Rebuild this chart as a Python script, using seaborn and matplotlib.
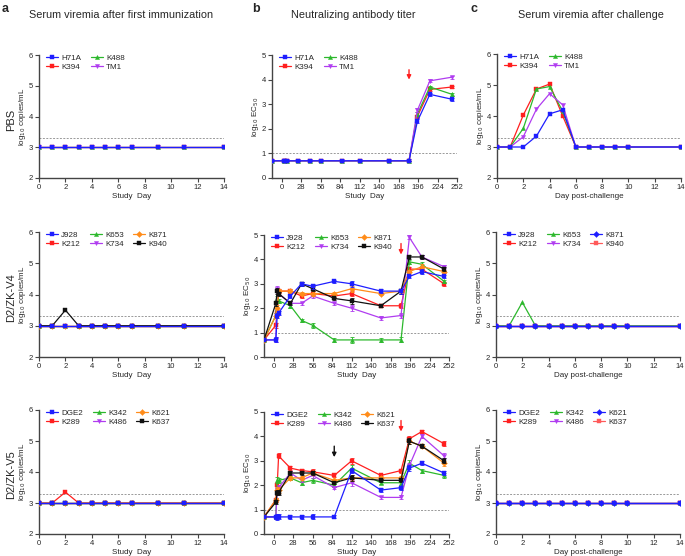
import numpy as np
import pandas as pd
import matplotlib
matplotlib.use("Agg")
import matplotlib.pyplot as plt
import seaborn as sns

W, H = 685, 556

# -- Data ------------------------------------------------------------------
a_days = [0, 1, 2, 3, 4, 5, 6, 7, 9, 11, 14]
c_days = [0, 1, 2, 3, 4, 5, 6, 7, 8, 9, 10, 14]
b_days = [-14, 3, 5, 7, 24, 40, 56, 87, 112, 154, 183, 195, 213, 245]
boost_day = 87
challenge_day = 183

# a: serum viremia after first immunization (log10 copies/mL)
a_pbs = {
    "H71A": [3, 3, 3, 3, 3, 3, 3, 3, 3, 3, 3],
    "K394": [3, 3, 3, 3, 3, 3, 3, 3, 3, 3, 3],
    "K488": [3, 3, 3, 3, 3, 3, 3, 3, 3, 3, 3],
    "TM1":  [3, 3, 3, 3, 3, 3, 3, 3, 3, 3, 3],
}
a_v4 = {
    "J928": [3, 3, 3, 3, 3, 3, 3, 3, 3, 3, 3],
    "K212": [3, 3, 3, 3, 3, 3, 3, 3, 3, 3, 3],
    "K653": [3, 3, 3, 3, 3, 3, 3, 3, 3, 3, 3],
    "K734": [3, 3, 3, 3, 3, 3, 3, 3, 3, 3, 3],
    "K871": [3, 3, 3, 3, 3, 3, 3, 3, 3, 3, 3],
    "K940": [3, 3, 3.5, 3, 3, 3, 3, 3, 3, 3, 3],
}
a_v5 = {
    "DGE2": [3, 3, 3, 3, 3, 3, 3, 3, 3, 3, 3],
    "K289": [3, 3, 3.35, 3, 3, 3, 3, 3, 3, 3, 3],
    "K342": [3, 3, 3, 3, 3, 3, 3, 3, 3, 3, 3],
    "K486": [3, 3, 3, 3, 3, 3, 3, 3, 3, 3, 3],
    "K621": [3, 3, 3, 3, 3, 3, 3, 3, 3, 3, 3],
    "K637": [3, 3, 3, 3, 3, 3, 3, 3, 3, 3, 3],
}

# b: neutralizing antibody titer (log10 EC50)
b_pbs = {
    "H71A": [0.7, 0.7, 0.7, 0.7, 0.7, 0.7, 0.7, 0.7, 0.7, 0.7, 0.7, 2.3, 3.4, 3.2],
    "K394": [0.7, 0.7, 0.7, 0.7, 0.7, 0.7, 0.7, 0.7, 0.7, 0.7, 0.7, 2.5, 3.6, 3.7],
    "K488": [0.7, 0.7, 0.7, 0.7, 0.7, 0.7, 0.7, 0.7, 0.7, 0.7, 0.7, 2.6, 3.7, 3.4],
    "TM1":  [0.7, 0.7, 0.7, 0.7, 0.7, 0.7, 0.7, 0.7, 0.7, 0.7, 0.7, 2.75, 3.95, 4.1],
}
b_v4 = {
    "J928": [0.7, 0.7, 1.7, 1.8, 2.5, 3.0, 2.9, 3.1, 3.0, 2.7, 2.7, 3.3, 3.5, 3.3],
    "K212": [0.7, 1.3, 1.8, 2.7, 2.7, 2.5, 2.6, 2.5, 2.6, 2.1, 2.1, 3.6, 3.6, 3.0],
    "K653": [0.7, 1.7, 2.4, 2.3, 2.1, 1.5, 1.3, 0.7, 0.7, 0.7, 0.7, 3.9, 3.8, 3.1],
    "K734": [0.7, 0.7, 2.8, 2.6, 2.2, 2.2, 2.5, 2.2, 2.0, 1.6, 1.7, 4.9, 4.1, 3.7],
    "K871": [0.7, 1.7, 2.0, 2.7, 2.7, 2.6, 2.6, 2.6, 2.8, 2.6, 2.7, 3.5, 3.7, 3.5],
    "K940": [0.7, 2.2, 2.7, 2.6, 2.2, 3.0, 2.8, 2.4, 2.3, 2.1, 2.7, 4.1, 4.1, 3.6],
}
b_v5 = {
    "DGE2": [0.7, 0.7, 0.7, 0.7, 0.7, 0.7, 0.7, 0.7, 2.6, 1.8, 1.9, 2.7, 2.9, 2.5],
    "K289": [0.7, 1.4, 2.0, 3.2, 2.7, 2.6, 2.55, 2.4, 3.0, 2.4, 2.6, 3.9, 4.2, 3.7],
    "K342": [0.7, 0.7, 2.2, 2.2, 2.3, 2.1, 2.2, 2.0, 2.7, 2.1, 2.1, 2.9, 2.6, 2.4],
    "K486": [0.7, 0.7, 1.8, 1.9, 2.5, 2.2, 2.4, 1.9, 2.1, 1.5, 1.5, 2.8, 4.0, 3.2],
    "K621": [0.7, 1.4, 1.8, 1.8, 2.3, 2.3, 2.5, 2.2, 2.3, 2.3, 2.3, 3.8, 3.6, 2.9],
    "K637": [0.7, 1.3, 1.7, 1.7, 2.5, 2.5, 2.5, 2.1, 2.3, 2.2, 2.2, 3.8, 3.6, 3.0],
}
# error bars (SD) per time point for each row of panel b
b_err_pbs = [0, 0, 0, 0, 0, 0, 0, 0, 0, 0, 0, 0.08, 0.06, 0.06]
b_err_v4 = [0, 0.1, 0.12, 0.08, 0.08, 0.07, 0.1, 0.07, 0.12, 0.07, 0.1, 0.08, 0.1, 0.07]
b_err_v5 = [0, 0.08, 0.12, 0.1, 0.07, 0.08, 0.1, 0.06, 0.12, 0.07, 0.08, 0.12, 0.08, 0.1]

# c: serum viremia after challenge (log10 copies/mL)
c_pbs = {
    "H71A": [3, 3, 3, 3.35, 4.07, 4.2, 3, 3, 3, 3, 3, 3],
    "K394": [3, 3, 4.03, 4.87, 5.03, 4.0, 3, 3, 3, 3, 3, 3],
    "K488": [3, 3, 3.6, 4.87, 4.95, 4.15, 3, 3, 3, 3, 3, 3],
    "TM1":  [3, 3, 3.33, 4.22, 4.72, 4.36, 3, 3, 3, 3, 3, 3],
}
c_v4 = {
    "J928": [3, 3, 3, 3, 3, 3, 3, 3, 3, 3, 3, 3],
    "K212": [3, 3, 3, 3, 3, 3, 3, 3, 3, 3, 3, 3],
    "K653": [3, 3, 3.75, 3, 3, 3, 3, 3, 3, 3, 3, 3],
    "K734": [3, 3, 3, 3, 3, 3, 3, 3, 3, 3, 3, 3],
    "K871": [3, 3, 3, 3, 3, 3, 3, 3, 3, 3, 3, 3],
    "K940": [3, 3, 3, 3, 3, 3, 3, 3, 3, 3, 3, 3],
}
c_v5 = {
    "DGE2": [3, 3, 3, 3, 3, 3, 3, 3, 3, 3, 3, 3],
    "K289": [3, 3, 3, 3, 3, 3, 3, 3, 3, 3, 3, 3],
    "K342": [3, 3, 3, 3, 3, 3, 3, 3, 3, 3, 3, 3],
    "K486": [3, 3, 3, 3, 3, 3, 3, 3, 3, 3, 3, 3],
    "K621": [3, 3, 3, 3, 3, 3, 3, 3, 3, 3, 3, 3],
    "K637": [3, 3, 3, 3, 3, 3, 3, 3, 3, 3, 3, 3],
}

row_labels = ["PBS", "D2/ZK-V4", "D2/ZK-V5"]
col_titles = ["Serum viremia after first immunization",
              "Neutralizing antibody titer",
              "Serum viremia after challenge"]

# -- Style -----------------------------------------------------------------
BLUE, RED, GREEN, PURPLE, ORANGE, BLACK = "#1e1eff", "#ff1f1f", "#2cb82c", "#b03cf0", "#ff8c1a", "#111111"
PINK = "#ff5a5a"
cols_ab = [BLUE, RED, GREEN, PURPLE, ORANGE, BLACK]
cols_c = [BLUE, RED, GREEN, PURPLE, BLUE, PINK]
markers = ["s", "s", "^", "v", "D", "s"]

sns.set_theme(style="ticks")
plt.rcParams["font.family"] = ["Liberation Sans", "DejaVu Sans"]
plt.rcParams["axes.linewidth"] = 1.0

fig = plt.figure(figsize=(W / 100, H / 100), dpi=100)


def add_panel(l, t, r, b):
    return fig.add_axes([l / W, 1 - b / H, (r - l) / W, (b - t) / H])


def draw(ax, days, series, colors, err=None):
    for i, (name, vals) in enumerate(series.items()):
        z = 4 if colors[i] == BLUE else 3
        sns.lineplot(x=days, y=vals, ax=ax, color=colors[i], marker=markers[i],
                     markersize=3, markeredgecolor=colors[i], markeredgewidth=0.3,
                     linewidth=0.9, label=name, zorder=z, sort=False,
                     estimator=None, errorbar=None)
        if err is not None:
            ax.errorbar(days, vals, yerr=err, fmt="none", ecolor=colors[i],
                        elinewidth=0.6, capsize=1.3, capthick=0.6, zorder=z)
    ncol = 2 if len(series) == 4 else 3
    ax.legend(ncol=ncol, loc="upper left", frameon=False, fontsize=5.8,
              handlelength=1.5, handletextpad=0.4, columnspacing=1.2,
              borderaxespad=0.0, labelspacing=0.1, bbox_to_anchor=(0.02, 1.03))


def style(ax, kind):
    sns.despine(ax=ax)
    for s in ["left", "bottom"]:
        ax.spines[s].set_color("#444444")
    ax.tick_params(axis="both", labelsize=5.5, length=3, width=0.8,
                   color="#444444", pad=1.5)
    if kind == "b":
        ax.set_xlim(-14, 252)
        ax.set_xticks(np.arange(0, 253, 28))
        ax.set_ylim(0, 5)
        ax.set_yticks(range(0, 6))
        ax.axhline(1.0, ls=(0, (2, 1.5)), color="#999999", lw=0.7, zorder=1)
        ax.set_ylabel("log$_{10}$ EC$_{50}$", fontsize=5.8)
        ax.set_xlabel("Study  Day", fontsize=5.8, labelpad=1)
    else:
        ax.set_xlim(0, 14)
        ax.set_xticks(range(0, 15, 2))
        ax.set_ylim(2, 6)
        ax.set_yticks(range(2, 7))
        ax.axhline(3.3, ls=(0, (2, 1.5)), color="#999999", lw=0.7, zorder=1)
        ax.set_ylabel("log$_{10}$ copies/mL", fontsize=5.8)
        ax.set_xlabel("Study  Day" if kind == "a" else "Day post-challenge",
                      fontsize=5.8, labelpad=1)
    ax.yaxis.set_label_coords(-0.06, 0.5)


def arrow(ax, x, y0, y1, color):
    ax.annotate("", xy=(x, y1), xytext=(x, y0),
                arrowprops=dict(arrowstyle="-|>", color=color, lw=1.0,
                                mutation_scale=6, shrinkA=0, shrinkB=0))


# -- Panels ----------------------------------------------------------------
a_boxes = [(39, 55, 224, 178), (39, 232, 224, 357), (39, 410, 224, 534)]
b_boxes = [(272, 55, 457, 178), (264, 235, 449, 357), (264, 412, 449, 534)]
c_boxes = [(497, 54, 681, 178), (496, 232, 680, 357), (496, 410, 680, 534)]

a_data = [a_pbs, a_v4, a_v5]
b_data = [b_pbs, b_v4, b_v5]
b_errs = [b_err_pbs, b_err_v4, b_err_v5]
c_data = [c_pbs, c_v4, c_v5]

for r in range(3):
    ax = add_panel(*a_boxes[r])
    draw(ax, a_days, a_data[r], cols_ab)
    style(ax, "a")

    ax = add_panel(*b_boxes[r])
    draw(ax, b_days, b_data[r], cols_ab, err=b_errs[r])
    style(ax, "b")
    if r == 0:
        arrow(ax, challenge_day, 4.4, 4.0, RED)
    else:
        arrow(ax, challenge_day, 4.65, 4.2, RED)
    if r == 2:
        arrow(ax, boost_day, 3.6, 3.15, BLACK)

    ax = add_panel(*c_boxes[r])
    draw(ax, c_days, c_data[r], cols_c)
    style(ax, "c")

# row labels
for y, lab in zip([120, 298, 475], row_labels):
    fig.text(11 / W, 1 - y / H, lab, rotation=90, ha="center", va="center",
             fontsize=8)

# column titles and panel letters
for x, t in zip([121, 353, 591], col_titles):
    fig.text(x / W, 1 - 15 / H, t, ha="center", va="center", fontsize=7.8)
for x, t in zip([5, 256, 474], ["a", "b", "c"]):
    fig.text(x / W, 1 - 9 / H, t, ha="center", va="center", fontsize=9,
             fontweight="bold")

fig.savefig("out.png", dpi=100)
plt.close(fig)
